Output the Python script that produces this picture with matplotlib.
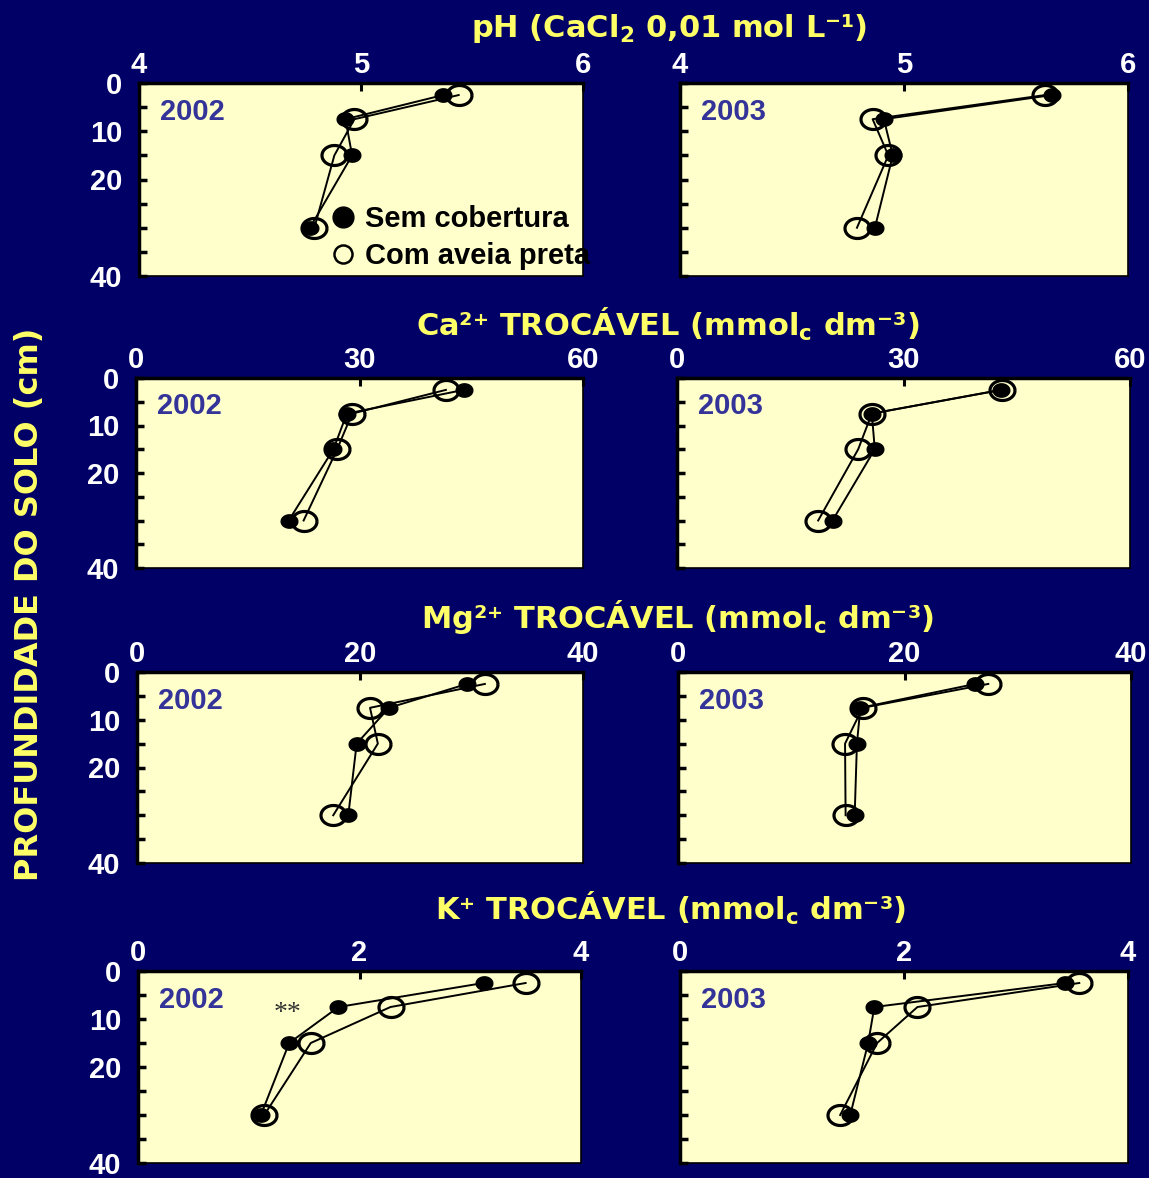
import numpy as np
import matplotlib
matplotlib.use('Agg')
import matplotlib.pyplot as plt
from matplotlib.lines import Line2D

# ---------------- data ----------------
depth = [2.5, 7.5, 15, 30]

ph_2002_sem = [5.37, 4.93, 4.96, 4.77]
ph_2002_com = [5.44, 4.97, 4.88, 4.79]
ph_2003_sem = [5.66, 4.91, 4.95, 4.87]
ph_2003_com = [5.63, 4.86, 4.93, 4.79]

ca_2002_sem = [44.0, 28.3, 26.5, 20.5]
ca_2002_com = [41.6, 29.0, 27.0, 22.5]
ca_2003_sem = [42.9, 25.8, 26.2, 20.6]
ca_2003_com = [43.0, 25.8, 24.0, 18.7]

mg_2002_sem = [29.6, 22.6, 19.7, 18.95]
mg_2002_com = [31.2, 20.9, 21.6, 17.6]
mg_2003_sem = [26.25, 16.1, 15.8, 15.6]
mg_2003_com = [27.4, 16.3, 14.75, 14.8]

k_2002_sem = [3.12, 1.81, 1.365, 1.11]
k_2002_com = [3.50, 2.28, 1.56, 1.14]
k_2003_sem = [3.44, 1.735, 1.68, 1.52]
k_2003_com = [3.565, 2.12, 1.76, 1.43]

titles = [r'pH (CaCl$_2$ 0,01 mol L⁻¹)',
          r'Ca²⁺ TROCÁVEL (mmol$_c$ dm⁻³)',
          r'Mg²⁺ TROCÁVEL (mmol$_c$ dm⁻³)',
          r'K⁺ TROCÁVEL (mmol$_c$ dm⁻³)']
xticks = [[4, 5, 6], [0, 30, 60], [0, 20, 40], [0, 2, 4]]
years = ['2002', '2003']
legend_labels = ['Sem cobertura', 'Com aveia preta']
ylabel = 'PROFUNDIDADE DO SOLO (cm)'
yticks = list(range(0, 41, 5))
ytick_labels = ['0', '', '10', '', '20', '', '', '', '40']

series = [[(ph_2002_sem, ph_2002_com), (ph_2003_sem, ph_2003_com)],
          [(ca_2002_sem, ca_2002_com), (ca_2003_sem, ca_2003_com)],
          [(mg_2002_sem, mg_2002_com), (mg_2003_sem, mg_2003_com)],
          [(k_2002_sem, k_2002_com), (k_2003_sem, k_2003_com)]]

# ---------------- style ----------------
plt.rcParams['mathtext.fontset'] = 'dejavusans'
plt.rcParams['mathtext.default'] = 'bf'

BG = '#000066'
FACE = '#FFFFCC'
YEL = '#FFFF66'
YEARC = '#333399'

W, H = 1149, 1178
fig = plt.figure(figsize=(W / 100, H / 100), dpi=100)
fig.patch.set_facecolor(BG)

# pixel layout (left, right) columns, (top, bottom) rows
cols = [[(139, 583), (680, 1128)],
        [(136, 583), (677, 1130)],
        [(137, 583), (678, 1131)],
        [(138, 581), (680, 1128)]]
rows = [(83, 276), (378, 568), (672, 863), (971, 1163)]
title_pos = [(669, 37), (668, 336), (677, 628), (670, 920)]

theta = np.linspace(0, 2 * np.pi, 60)
ell = list(zip(np.cos(theta), 0.8 * np.sin(theta)))

tickfont = dict(family='Liberation Sans', weight='bold', size=21)

for r in range(4):
    y0, y1 = rows[r]
    for c in range(2):
        x0, x1 = cols[r][c]
        ax = fig.add_axes([x0 / W, 1 - y1 / H, (x1 - x0) / W, (y1 - y0) / H])
        ax.set_facecolor(FACE)
        sem, com = series[r][c]
        ax.plot(com, depth, color='black', lw=1.4, marker=ell, ms=18,
                mfc='none', mec='black', mew=2.3, zorder=3)
        ax.plot(sem, depth, color='black', lw=1.4, marker=ell, ms=12,
                mfc='black', mec='black', zorder=4)
        xt = xticks[r]
        ax.set_xlim(xt[0], xt[-1])
        ax.set_ylim(40, 0)
        ax.xaxis.tick_top()
        ax.set_xticks(xt)
        ax.set_xticklabels([str(v) for v in xt], color='white', **tickfont)
        ax.set_yticks(yticks)
        if c == 0:
            ax.set_yticklabels(ytick_labels, color='white', **tickfont)
        else:
            ax.set_yticklabels([])
        ax.tick_params(axis='x', direction='in', length=6, width=2.2,
                       color='black', pad=3)
        ax.tick_params(axis='y', direction='in', length=6, width=2.5,
                       color='black', pad=12)
        for s in ['top', 'left']:
            ax.spines[s].set_linewidth(2.5)
            ax.spines[s].set_color('black')
        for s in ['bottom', 'right']:
            ax.spines[s].set_linewidth(1.2)
            ax.spines[s].set_color('black')
        ax.text(0.047, 0.85, years[c], transform=ax.transAxes,
                ha='left', va='center', color=YEARC,
                family='Liberation Sans', weight='bold', size=21)
        if r == 0 and c == 0:
            handles = [Line2D([], [], ls='none', marker='o', ms=15,
                              mfc='black', mec='black'),
                       Line2D([], [], ls='none', marker='o', ms=13,
                              mfc='none', mec='black', mew=1.8)]
            ax.legend(handles, legend_labels, loc='lower right',
                      bbox_to_anchor=(1.03, 0.0), frameon=False,
                      prop=dict(family='Liberation Sans', weight='bold', size=21),
                      handlelength=0.9, handletextpad=0.3, labelspacing=0.32,
                      borderpad=0.0, borderaxespad=0.2)
        if r == 3 and c == 0:
            ax.text(1.35, 8.8, '**', ha='center', va='center',
                    color='#333333', family='Liberation Serif', size=20)
    tx, ty = title_pos[r]
    fig.text(tx / W, 1 - ty / H, titles[r], ha='center', va='baseline',
             color=YEL, family='DejaVu Sans', weight='bold', size=22)

fig.text(30 / W, 1 - 604 / H, ylabel, rotation=90, ha='center', va='center',
         color=YEL, family='DejaVu Sans', weight='bold', size=23)

fig.savefig('out.png', dpi=100, facecolor=BG)
